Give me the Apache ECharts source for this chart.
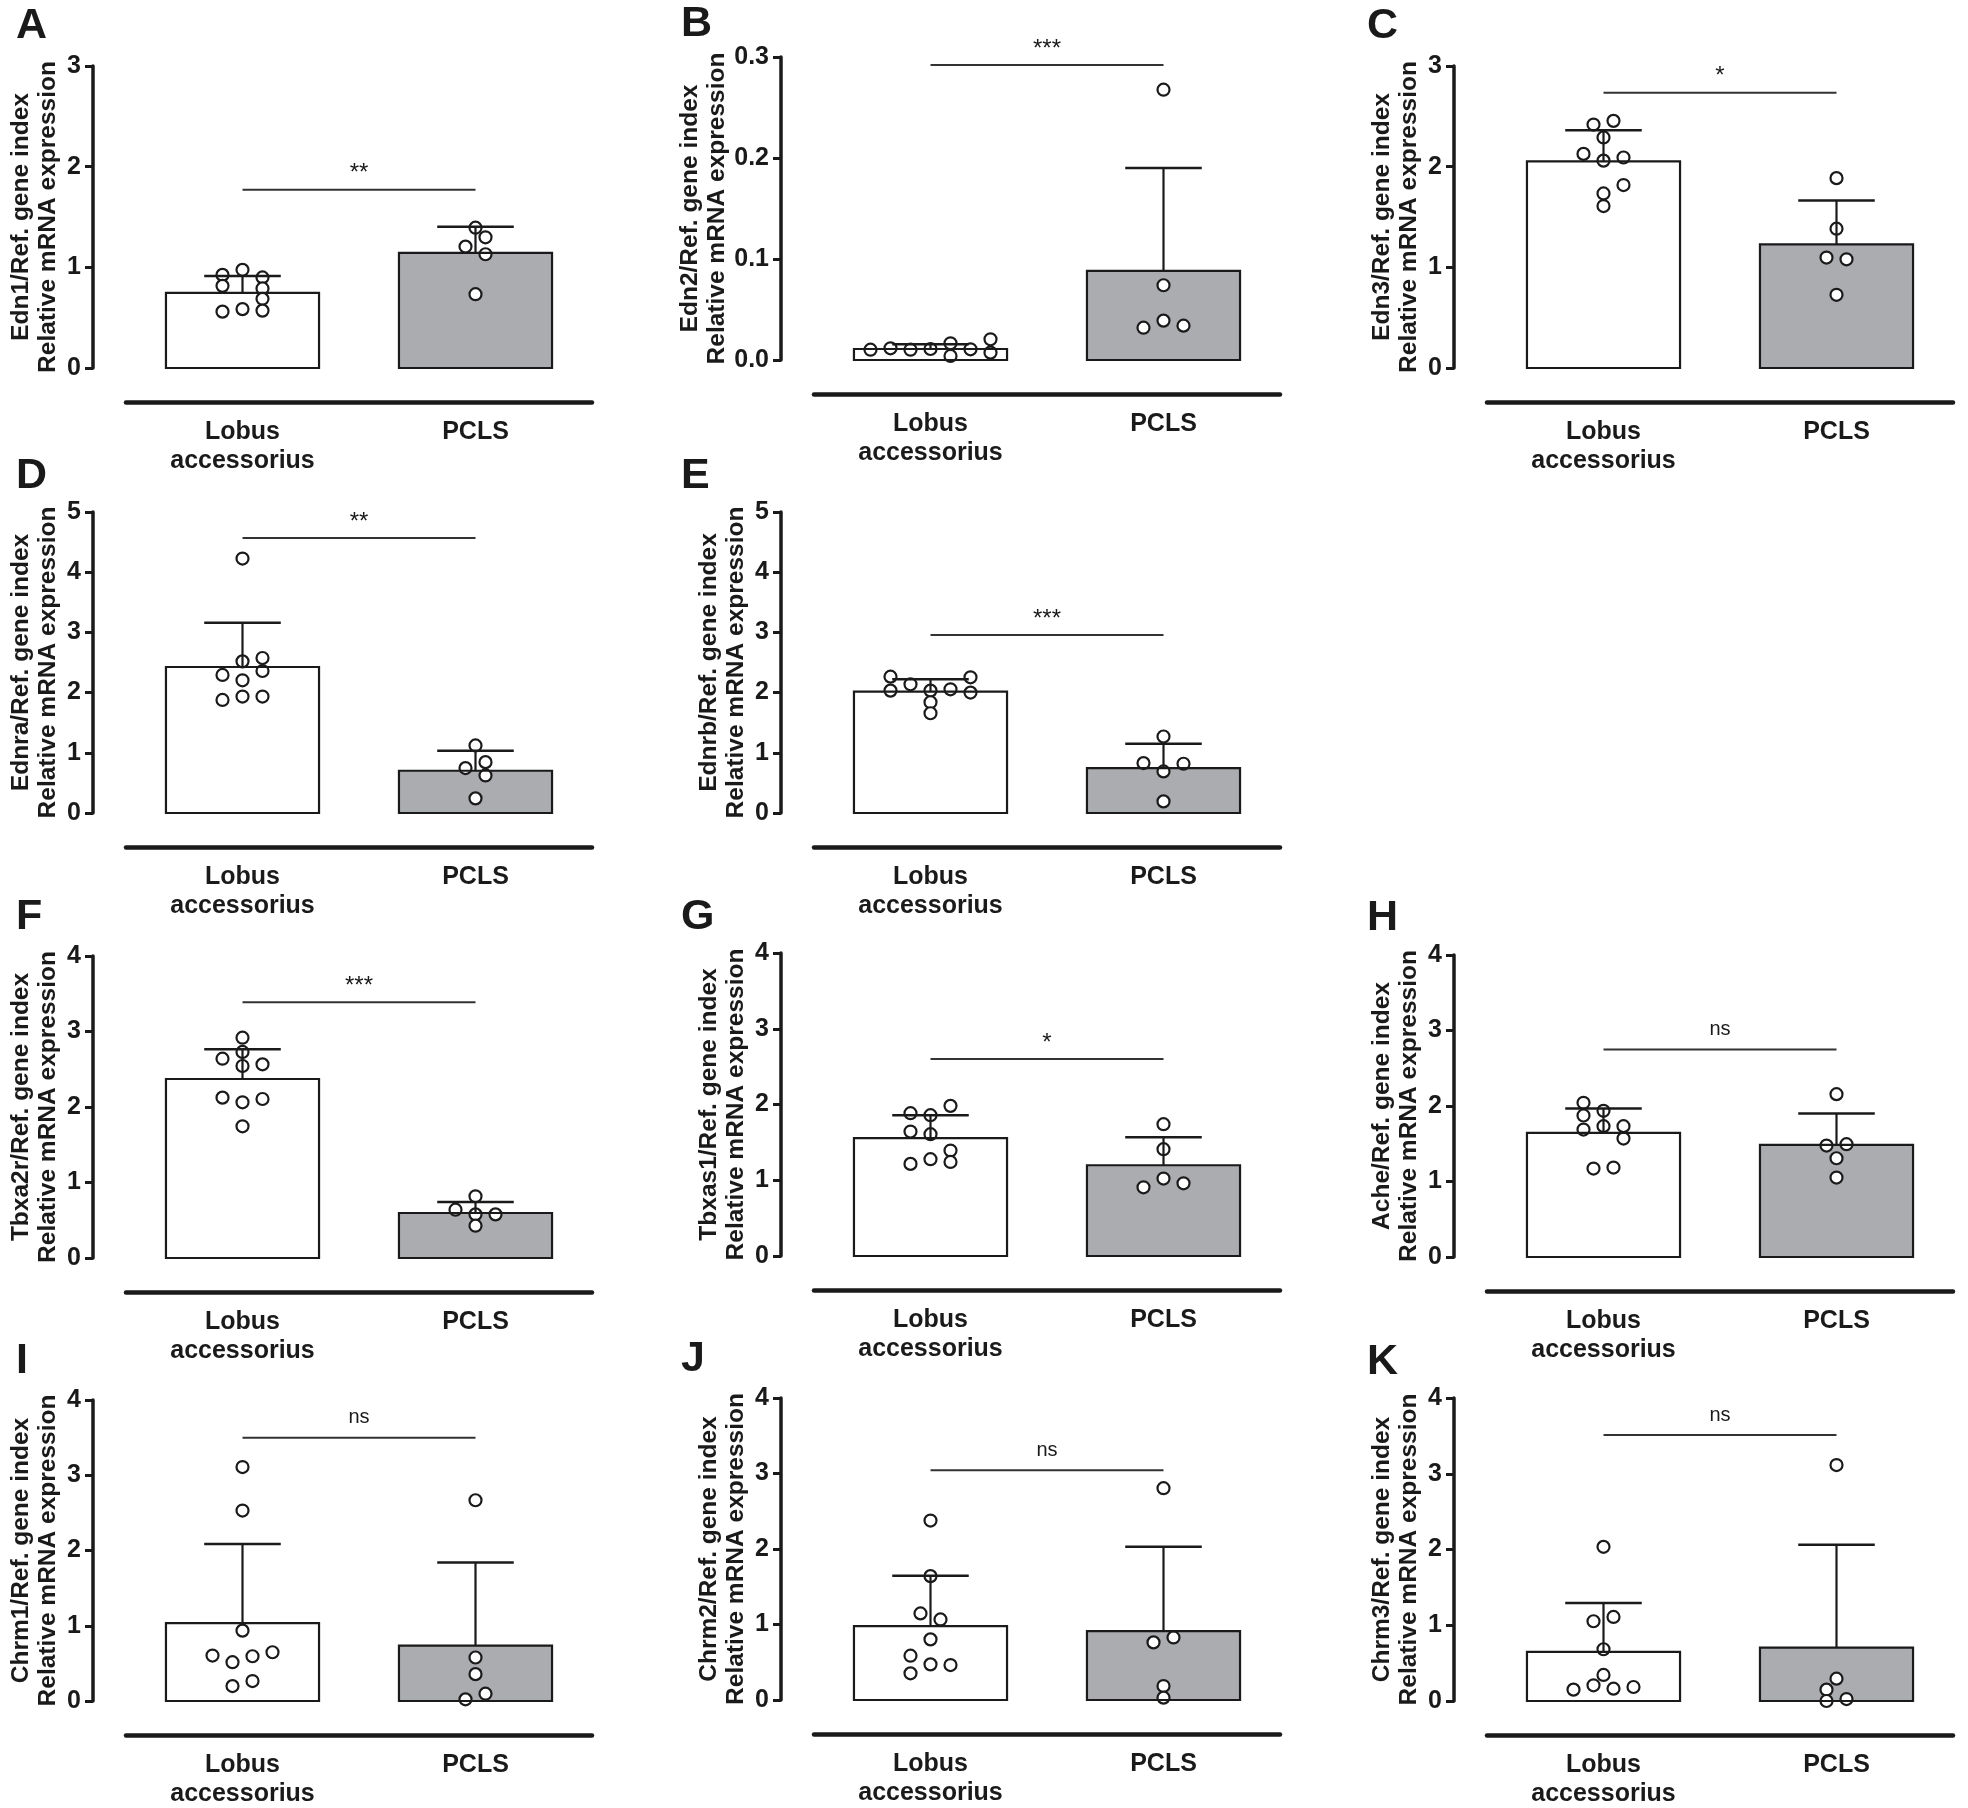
<!DOCTYPE html>
<html><head><meta charset="utf-8">
<script src="https://cdn.jsdelivr.net/npm/echarts@6/dist/echarts.min.js"></script>
<style>html,body{margin:0;padding:0;background:#fff}#c{width:1968px;height:1808px}</style>
</head><body><div id="c"></div>
<script>
// ---------------- DATA ----------------
const categories = ['Lobus\naccessorius', 'PCLS'];
const panelLetters = ['A','B','C','D','E','F','G','H','I','J','K'];
const genes = ['Edn1','Edn2','Edn3','Ednra','Ednrb','Tbxa2r','Tbxas1','Ache','Chrm1','Chrm2','Chrm3'];
const yMax  = [3, 0.3, 3, 5, 5, 4, 4, 4, 4, 4, 4];
const yStep = [1, 0.1, 1, 1, 1, 1, 1, 1, 1, 1, 1];
const yDecimals = [0, 1, 0, 0, 0, 0, 0, 0, 0, 0, 0];
// bar heights (mean) [Lobus, PCLS]
const meanValues = [
  [0.747, 1.143], [0.0109, 0.0882], [2.052, 1.229], [2.425, 0.702], [2.017, 0.746],
  [2.371, 0.596], [1.555, 1.198], [1.644, 1.485], [1.036, 0.737], [0.979, 0.913], [0.648, 0.705]
];
// SD (upper error bar length)
const sdValues = [
  [0.168, 0.261], [0.0046, 0.1018], [0.310, 0.436], [0.735, 0.331], [0.204, 0.403],
  [0.393, 0.146], [0.304, 0.370], [0.323, 0.415], [1.050, 1.102], [0.666, 1.116], [0.647, 1.357]
];
// individual data points
const lobusPoints = [
  [0.925, 0.816, 0.56, 0.975, 0.585, 0.90, 0.79, 0.687, 0.57],
  [0.0102, 0.0116, 0.0102, 0.0109, 0.0165, 0.0040, 0.0106, 0.0205, 0.0073],
  [2.418, 2.455, 2.29, 2.06, 1.734, 1.609, 2.127, 2.091, 1.817],
  [4.227, 2.519, 2.204, 1.934, 2.293, 1.878, 2.575, 2.359, 1.934],
  [2.265, 2.033, 2.138, 2.033, 1.84, 1.657, 2.055, 2.254, 2.0],
  [2.918, 2.729, 2.543, 2.062, 1.744, 2.640, 2.124, 2.565, 2.106],
  [1.885, 1.643, 1.216, 1.859, 1.608, 1.278, 1.982, 1.392, 1.242],
  [2.042, 1.874, 1.688, 1.936, 1.733, 1.733, 1.569, 1.171, 1.185],
  [0.604, 0.516, 0.198, 3.109, 2.531, 0.935, 0.595, 0.265, 0.648],
  [2.377, 1.641, 0.803, 0.472, 1.147, 1.067, 0.587, 0.353, 0.463],
  [2.035, 0.683, 0.344, 1.053, 1.110, 0.150, 0.207, 0.163, 0.185]
];
const pclsPoints = [
  [1.394, 0.733, 1.298, 1.13, 1.206],
  [0.2676, 0.074, 0.039, 0.032, 0.034],
  [1.886, 1.384, 0.727, 1.097, 1.080],
  [1.122, 0.243, 0.746, 0.845, 0.624],
  [1.271, 0.691, 0.193, 0.829, 0.818],
  [0.817, 0.578, 0.428, 0.640, 0.578],
  [1.740, 1.410, 1.022, 0.907, 0.960],
  [2.157, 1.308, 1.052, 1.476, 1.494],
  [2.668, 0.578, 0.357, 0.022, 0.097],
  [2.805, 0.185, 0.031, 0.763, 0.829],
  [3.115, 0.295, 0.150, 0.0, 0.026]
];
// significance bracket level and label
const sigLevel  = [1.77, 0.292, 2.735, 4.57, 2.956, 3.386, 2.60, 2.749, 3.497, 3.043, 3.511];
const sigLabels = ['**', '***', '*', '**', '***', '***', '*', 'ns', 'ns', 'ns', 'ns'];

// ---------------- LAYOUT ----------------
const lobusJitter = [
  [-1,-1,-1,0,0,1,1,1,1],
  [-3,-2,-1,0,1,1,2,3,3],
  [-0.5,0.5,0,0,0,0,-1,1,1],
  [0,0,0,0,-1,-1,1,1,1],
  [-2,-2,-1,0,0,0,1,2,2],
  [0,0,0,0,0,-1,-1,1,1],
  [-1,-1,-1,0,0,0,1,1,1],
  [-1,-1,-1,0,0,1,1,-0.5,0.5],
  [-1.5,-0.5,-0.5,0,0,0,0.5,0.5,1.5],
  [0,0,0,0,-0.5,0.5,-1,-1,1],
  [0,0,0,-0.5,0.5,-1.5,-0.5,0.5,1.5]
];
const pclsJitter = [
  [0,0,0.5,0.5,-0.5],
  [0,0,0,-1,1],
  [0,0,0,-0.5,0.5],
  [0,0,-0.5,0.5,0.5],
  [0,0,0,-1,1],
  [0,0,0,-1,1],
  [0,0,0,-1,1],
  [0,0,0,-0.5,0.5],
  [0,0,0,-0.5,0.5],
  [0,0,0,-0.5,0.5],
  [0,0,-0.5,-0.5,0.5]
];
const JITTER_PX = 20;
const panelCol = [0,1,2,0,1,0,1,2,0,1,2];
const colAxisX = [93, 781, 1454];
const panelTop = [66, 57, 66, 512, 512, 956, 953, 955, 1400, 1398, 1398];
const panelH   = [302, 303, 302, 301, 301, 302, 303, 302, 302, 302, 303];
const letterX  = [33, 698, 1384];
const letterY  = [25, 23, 25, 475, 475, 916, 916, 917, 1360, 1358, 1361];
const AXIS_OFFSET = 33, GRID_W = 466, X_OFFSET = 34, BAR_FRAC = 0.657;

const INK = '#1a1a1a';
const NARROW = "'Liberation Sans Narrow','Arial Narrow','Liberation Sans',sans-serif";
const SANS = "'Liberation Sans',Arial,sans-serif";

const grids = [], xAxes = [], yAxes = [], series = [], graphics = [];

for (let i = 0; i < 11; i++) {
  const ax = colAxisX[panelCol[i]];
  grids.push({left: ax + AXIS_OFFSET, top: panelTop[i], width: GRID_W, height: panelH[i]});
  xAxes.push({
    type: 'category', gridIndex: i, data: categories, offset: X_OFFSET, position: 'bottom',
    axisLine: {onZero: false, lineStyle: {color: INK, width: 4.5}},
    axisTick: {alignWithLabel: true, length: 10, lineStyle: {color: INK, width: 3}},
    axisLabel: {color: INK, fontFamily: NARROW, fontWeight: 'bold', fontSize: 25, lineHeight: 28.5, margin: 16}
  });
  const dec = yDecimals[i];
  yAxes.push({
    type: 'value', gridIndex: i, min: 0, max: yMax[i], interval: yStep[i], offset: AXIS_OFFSET,
    name: genes[i] + '/Ref. gene index\nRelative mRNA expression',
    nameLocation: 'middle', nameRotate: 90, nameGap: 31,
    nameTextStyle: {color: INK, fontFamily: SANS, fontWeight: 'bold', fontSize: 24.5, lineHeight: 27},
    splitLine: {show: false},
    axisLine: {show: true, onZero: false, lineStyle: {color: INK, width: 3.5}},
    axisTick: {show: true, length: 8, lineStyle: {color: INK, width: 3}},
    axisLabel: {color: INK, fontFamily: NARROW, fontWeight: 'bold', fontSize: 25, margin: 12,
      formatter: v => Number(v).toFixed(dec)}
  });
  // bars (fill)
  series.push({
    type: 'bar', xAxisIndex: i, yAxisIndex: i, barWidth: (BAR_FRAC * 100) + '%', z: 2,
    silent: true,
    data: meanValues[i].map((v, k) => ({value: v, itemStyle: {color: k === 0 ? '#ffffff' : '#abacaf'}}))
  });
  // points
  const pts = [];
  lobusPoints[i].forEach((v, k) => pts.push({value: [0, v], symbolOffset: [lobusJitter[i][k] * JITTER_PX, 0]}));
  pclsPoints[i].forEach((v, k) => pts.push({value: [1, v], symbolOffset: [pclsJitter[i][k] * JITTER_PX, 0]}));
  series.push({
    type: 'scatter', xAxisIndex: i, yAxisIndex: i, z: 3, silent: true,
    symbol: 'circle', symbolSize: 12,
    itemStyle: {color: '#ffffff', borderColor: INK, borderWidth: 2.2, opacity: 1},
    data: pts
  });
  // bar outline + SD error bars (drawn on top)
  series.push({
    type: 'custom', xAxisIndex: i, yAxisIndex: i, z: 4, silent: true, clip: false,
    data: meanValues[i].map((m, k) => [k, m, m + sdValues[i][k]]),
    renderItem: (params, api) => {
      const c = api.value(0), m = api.value(1), t = api.value(2);
      const pB = api.coord([c, 0]), pM = api.coord([c, m]), pT = api.coord([c, t]);
      const bw = api.size([1, 0])[0] * BAR_FRAC;
      return {type: 'group', children: [
        {type: 'rect', shape: {x: pB[0] - bw / 2, y: pM[1], width: bw, height: pB[1] - pM[1]},
          style: {fill: 'none', stroke: INK, lineWidth: 2.2}},
        {type: 'line', shape: {x1: pM[0], y1: pM[1], x2: pT[0], y2: pT[1]}, style: {stroke: INK, lineWidth: 2.2}},
        {type: 'line', shape: {x1: pT[0] - bw / 4, y1: pT[1], x2: pT[0] + bw / 4, y2: pT[1]}, style: {stroke: INK, lineWidth: 2.5}}
      ]};
    }
  });
  // significance bracket
  series.push({
    type: 'custom', xAxisIndex: i, yAxisIndex: i, z: 4, silent: true, clip: false,
    data: [[0, sigLevel[i]]],
    renderItem: (params, api) => {
      const y = api.value(1);
      const p0 = api.coord([0, y]), p1 = api.coord([1, y]);
      const isNs = sigLabels[i] === 'ns';
      return {type: 'group', children: [
        {type: 'line', shape: {x1: p0[0], y1: p0[1], x2: p1[0], y2: p1[1]}, style: {stroke: '#333', lineWidth: 2}},
        {type: 'text', style: {text: sigLabels[i], x: (p0[0] + p1[0]) / 2, y: p0[1] - (isNs ? 10 : 4),
          align: 'center', verticalAlign: 'bottom', fill: INK,
          font: (isNs ? '20px ' : '24px ') + NARROW}}
      ]};
    }
  });
  graphics.push({type: 'text', left: letterX[panelCol[i]] - 17, top: letterY[i] - 20,
    style: {text: panelLetters[i], fill: INK, font: 'bold 43px ' + SANS}});
}

const chart = echarts.init(document.getElementById('c'), null, {renderer: 'canvas', width: 1968, height: 1808});
chart.setOption({
  animation: false,
  backgroundColor: '#ffffff',
  grid: grids, xAxis: xAxes, yAxis: yAxes, series: series, graphic: graphics
});
</script></body></html>
